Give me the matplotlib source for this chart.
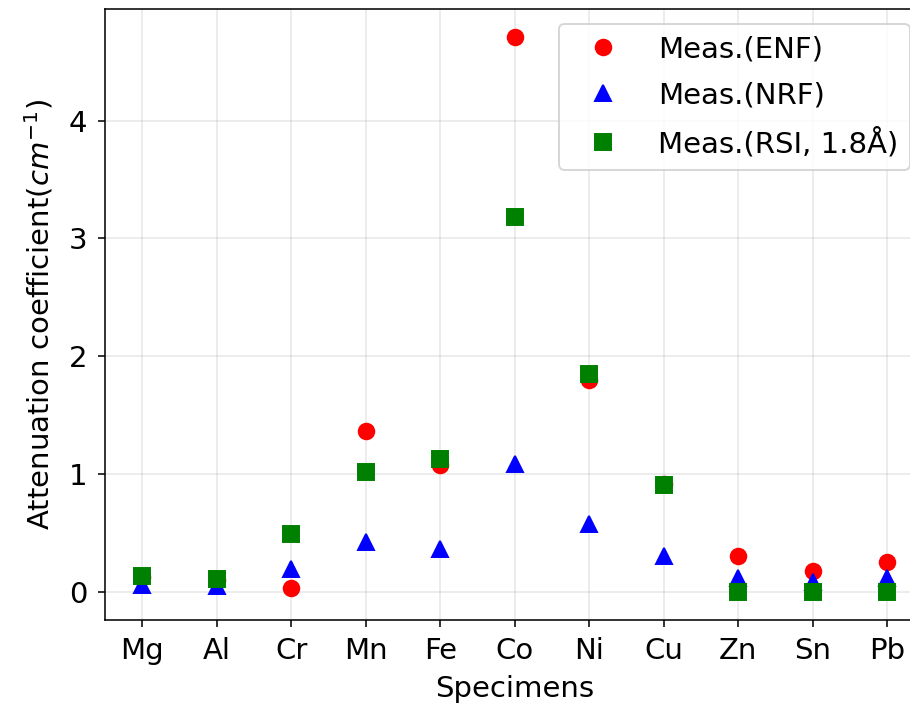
import matplotlib
matplotlib.use("Agg")
import matplotlib.pyplot as plt

specimens = ["Mg", "Al", "Cr", "Mn", "Fe", "Co", "Ni", "Cu", "Zn", "Sn", "Pb"]
enf = [0.13, 0.10, 0.04, 1.37, 1.08, 4.71, 1.80, 0.92, 0.31, 0.18, 0.26]
nrf = [0.06, 0.05, 0.20, 0.43, 0.37, 1.09, 0.58, 0.31, 0.12, 0.09, 0.12]
rsi = [0.14, 0.11, 0.49, 1.02, 1.13, 3.18, 1.85, 0.91, 0.00, 0.00, 0.00]

plt.rcParams['font.size'] = 15
fig = plt.figure(figsize=(910 / 140, 704 / 140), dpi=140)
ax = fig.add_axes([0.1154, 0.1193, 0.9005, 0.8679])

x = list(range(len(specimens)))
ax.plot(x, enf, 'o', color='red', markersize=8, label='Meas.(ENF)')
ax.plot(x, nrf, '^', color='blue', markersize=8, label='Meas.(NRF)')
ax.plot(x, rsi, 's', color='green', markersize=8, label='Meas.(RSI, 1.8Å)')

ax.set_xticks(x)
ax.set_xticklabels(specimens)
ax.set_yticks([0, 1, 2, 3, 4])
ax.tick_params(axis='x', pad=5)
ax.tick_params(axis='y', pad=5.5)
ax.grid(True, alpha=0.3)
ax.set_xlabel('Specimens', labelpad=5.5)
ax.set_ylabel('Attenuation coefficient($cm^{-1}$)', labelpad=7)
ax.legend(loc='upper right', handlelength=2.2, labelspacing=0.63)

fig.savefig('out.png', dpi=140)
